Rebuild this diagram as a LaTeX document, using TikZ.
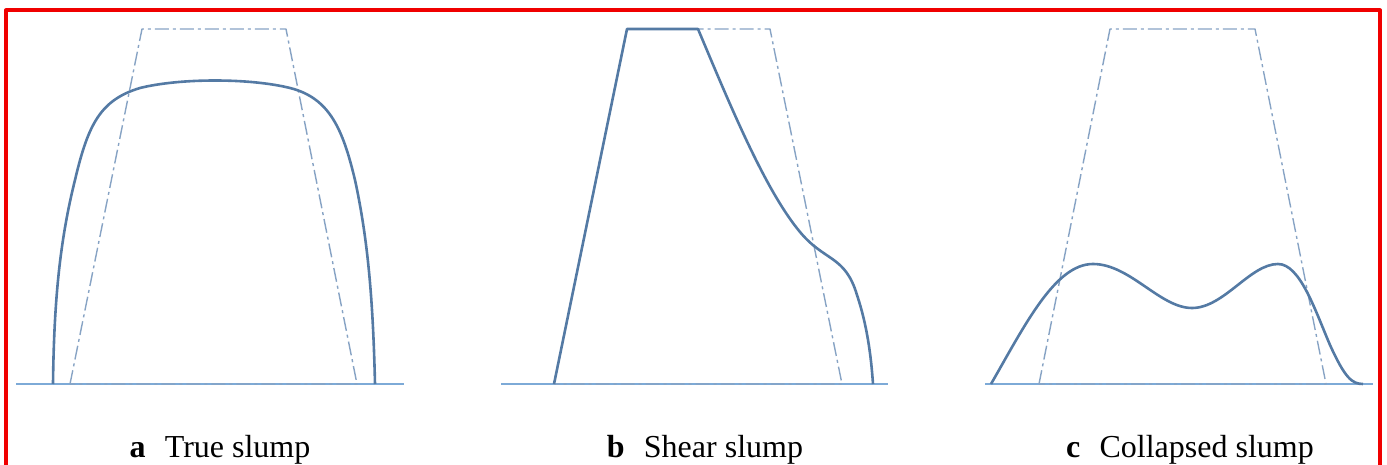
\documentclass[tikz,border=0pt]{standalone}
\usepackage{fontspec}
\setmainfont{Liberation Serif}
\usetikzlibrary{positioning}
\definecolor{slumpblue}{RGB}{84,122,164}
\definecolor{groundblue}{RGB}{125,170,215}
\definecolor{coneblue}{RGB}{135,163,196}
\definecolor{frame}{RGB}{240,0,0}

\begin{document}
\begin{tikzpicture}[x=0.5pt, y=-0.5pt, line join=round,
			ground/.style={draw=groundblue, line width=1.1pt},
			cone/.style={draw=coneblue, line width=0.7pt, dash pattern=on 7pt off 2pt on 1.5pt off 2pt},
			slump/.style={draw=slumpblue, line width=1.3pt},
			caption/.style={font=\fontsize{16}{18}\selectfont, inner sep=0pt, anchor=base}]
	\useasboundingbox (0,0) rectangle (1387,465);
	\draw[frame, line width=2pt] (6,470) -- (6,10.5) -- (1380,10.5) -- (1380,470);

	% a: true slump
	\draw[ground] (16,384) -- (404,384);
	\draw[cone] (70,384) -- (142,29) -- (286,29) -- (357,384) -- cycle;
	\draw[slump] (53,384) .. controls (54,300) and (60,240) .. (75,180)
		.. controls (88,125) and (100,100) .. (140,88)
		.. controls (180,78) and (250,78) .. (290,88)
		.. controls (330,98) and (343,130) .. (355,180)
		.. controls (368,240) and (373,300) .. (375,384);
	\node[caption] (capA) at (220,457) {\textbf{a}\hspace{0.6em}True slump};

	% b: shear slump
	\draw[ground] (501,384) -- (888,384);
	\draw[cone] (554,384) -- (627,29) -- (770,29) -- (842,384) -- cycle;
	\draw[slump] (554,384) -- (627,29) -- (698,29)
		.. controls (730,105) and (765,190) .. (800,232)
		.. controls (825,262) and (845,255) .. (857,295)
		.. controls (867,325) and (871,355) .. (873,384);
	\node[caption] (capB) at (705,457) {\textbf{b}\hspace{0.6em}Shear slump};

	% c: collapsed slump
	\draw[ground] (985,384) -- (1373,384);
	\draw[cone] (1039,384) -- (1110,29) -- (1255,29) -- (1326,384) -- cycle;
	\draw[slump] (991,384) .. controls (1025,325) and (1055,264) .. (1093,264)
		.. controls (1130,264) and (1160,308) .. (1192,308)
		.. controls (1224,308) and (1250,264) .. (1278,264)
		.. controls (1300,264) and (1315,310) .. (1330,345)
		.. controls (1345,378) and (1352,384) .. (1363,384);
	\node[caption] (capC) at (1190,457) {\textbf{c}\hspace{0.6em}Collapsed slump};
\end{tikzpicture}
\end{document}
